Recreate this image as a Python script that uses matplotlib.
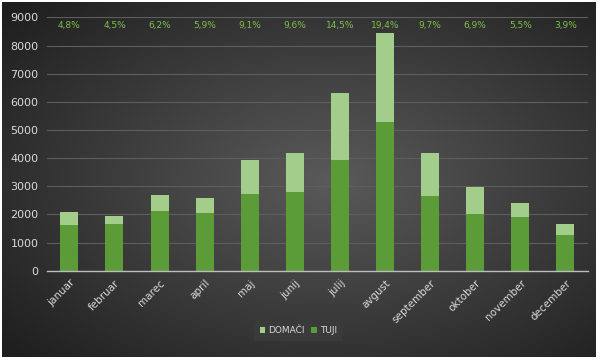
import numpy as np
import matplotlib
matplotlib.use("Agg")
import matplotlib.pyplot as plt

months = ["januar", "februar", "marec", "april", "maj", "junij", "julij",
          "avgust", "september", "oktober", "november", "december"]
tuji = [1630, 1660, 2120, 2040, 2710, 2800, 3950, 5290, 2670, 2005, 1920, 1285]
totals = [2100, 1960, 2680, 2580, 3950, 4180, 6300, 8440, 4200, 2985, 2400, 1675]
domaci = [t - b for t, b in zip(totals, tuji)]
shares = ["4,8%", "4,5%", "6,2%", "5,9%", "9,1%", "9,6%", "14,5%", "19,4%",
          "9,7%", "6,9%", "5,5%", "3,9%"]
yticks = [0, 1000, 2000, 3000, 4000, 5000, 6000, 7000, 8000, 9000]

fig = plt.figure(figsize=(6.0, 3.62), dpi=100)
fig.patch.set_facecolor("white")

# background panel with radial gradient
bg = fig.add_axes([0.004, 0.014, 0.99, 0.98])
bg.set_axis_off()
ny, nx = 200, 330
yy, xx = np.mgrid[0:ny, 0:nx]
cx, cy = nx * 0.55, ny * 0.5
r = np.sqrt(((xx - cx) / nx) ** 2 + ((yy - cy) / ny) ** 2) / 0.72
r = np.clip(r, 0, 1)
c0 = np.array([0x5a, 0x5a, 0x5a]) / 255
c1 = np.array([0x1f, 0x1f, 0x1f]) / 255
img = c0[None, None, :] * (1 - r[..., None]) + c1[None, None, :] * r[..., None]
bg.imshow(img, aspect="auto", extent=[0, 1, 0, 1], interpolation="bilinear")
bg.set_xlim(0, 1)
bg.set_ylim(0, 1)

ax = fig.add_axes([0.078, 0.252, 0.902, 0.70])
ax.set_facecolor("none")
x = np.arange(len(months))
w = 0.4
ax.bar(x, tuji, width=w, color="#5c9c38", zorder=3, label="TUJI")
ax.bar(x, domaci, width=w, bottom=tuji, color="#a2cd8a", zorder=3, label="DOMAČI")

ax.set_xlim(-0.5, len(months) - 0.5)
ax.set_ylim(0, 9000)
ax.set_yticks(yticks)
ax.set_yticklabels([str(v) for v in yticks], color="#d9d9d9", fontsize=8)
ax.set_xticks(x)
ax.set_xticklabels(months, rotation=45, ha="right", rotation_mode="anchor",
                   color="#d9d9d9", fontsize=7.5)
ax.tick_params(axis="both", length=0, pad=6)
ax.tick_params(axis="x", pad=5)
ax.grid(axis="y", color="#5e5e5e", linewidth=0.8, zorder=0)
for s in ["top", "right", "left"]:
    ax.spines[s].set_visible(False)
ax.spines["bottom"].set_color("#bdbdbd")
ax.spines["bottom"].set_linewidth(1.0)
ax.spines["bottom"].set_zorder(4)

for xi, s in zip(x, shares):
    ax.text(xi, 8720, s, ha="center", va="center", color="#7fbf4a", fontsize=6.5)

h, l = ax.get_legend_handles_labels()
leg = fig.legend([h[1], h[0]], [l[1], l[0]], loc="center",
                 bbox_to_anchor=(0.497, 0.087), ncol=2, frameon=True,
                 fontsize=6.5, handlelength=0.6, handleheight=0.6,
                 handletextpad=0.3, columnspacing=0.8, borderpad=0.6)
leg.get_frame().set_facecolor("#3a3a3a")
leg.get_frame().set_edgecolor("#3a3a3a")
leg.get_frame().set_alpha(1)
leg.get_frame().set_boxstyle("square", pad=0.0)
for t in leg.get_texts():
    t.set_color("#d9d9d9")

fig.savefig("out.png", dpi=100, facecolor="white")
